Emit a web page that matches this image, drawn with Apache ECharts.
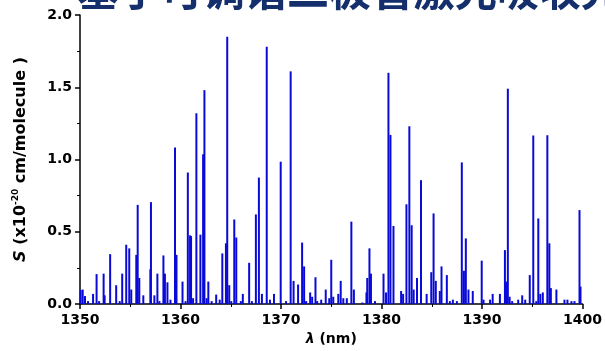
<!DOCTYPE html>
<html>
<head>
<meta charset="utf-8">
<script src="https://cdn.jsdelivr.net/npm/echarts@6/dist/echarts.min.js"></script>
<style>html,body{margin:0;padding:0;background:#fff}#c{width:605px;height:351px}</style>
</head>
<body>
<div id="c"></div>
<script>
var wavelengths = [1350.07,1350.27,1350.5,1350.8,1351.3,1351.65,1351.9,1352.35,1352.45,1353.0,1353.6,1353.95,1354.2,1354.6,1354.9,1355.1,1355.6,1355.74,1355.9,1356.3,1357.0,1357.06,1357.4,1357.7,1357.9,1358.3,1358.45,1358.7,1359.0,1359.45,1359.6,1360.2,1360.5,1360.73,1360.95,1361.05,1361.25,1361.58,1361.98,1362.25,1362.38,1362.6,1362.77,1363.1,1363.55,1363.9,1364.16,1364.52,1364.65,1364.85,1365.05,1365.35,1365.55,1366.0,1366.2,1366.83,1367.1,1367.5,1367.8,1368.1,1368.58,1368.9,1369.3,1369.97,1370.5,1370.96,1371.25,1371.7,1372.1,1372.3,1372.5,1372.9,1373.1,1373.43,1373.6,1374.0,1374.45,1374.8,1375.0,1375.2,1375.7,1375.94,1376.2,1376.55,1377.0,1377.25,1378.1,1378.5,1378.58,1378.8,1378.95,1379.35,1380.2,1380.45,1380.69,1380.89,1381.19,1381.95,1382.15,1382.48,1382.77,1383.0,1383.2,1383.53,1383.93,1384.49,1384.95,1385.18,1385.4,1385.8,1385.97,1386.5,1386.8,1387.1,1387.5,1387.99,1388.2,1388.39,1388.65,1389.08,1389.97,1390.15,1390.8,1391.06,1391.78,1392.28,1392.4,1392.57,1392.75,1393.0,1393.6,1394.0,1394.3,1394.75,1395.1,1395.4,1395.6,1395.8,1396.05,1396.5,1396.7,1396.85,1397.4,1398.2,1398.5,1398.9,1399.2,1399.7,1399.8];
var intensities = [0.097,0.10,0.055,0.02,0.07,0.207,0.02,0.21,0.06,0.345,0.13,0.02,0.21,0.41,0.385,0.10,0.34,0.686,0.18,0.06,0.24,0.705,0.06,0.21,0.02,0.336,0.21,0.15,0.03,1.083,0.34,0.155,0.02,0.91,0.475,0.47,0.04,1.32,0.48,1.036,1.48,0.04,0.155,0.02,0.065,0.03,0.35,0.42,1.85,0.13,0.02,0.585,0.46,0.02,0.07,0.285,0.02,0.62,0.875,0.07,1.78,0.03,0.07,0.985,0.02,1.61,0.16,0.135,0.425,0.26,0.02,0.08,0.05,0.185,0.02,0.03,0.10,0.04,0.306,0.05,0.07,0.16,0.04,0.04,0.57,0.10,0.01,0.08,0.18,0.385,0.21,0.02,0.21,0.08,1.60,1.17,0.54,0.09,0.07,0.69,1.23,0.545,0.10,0.18,0.857,0.07,0.22,0.627,0.16,0.09,0.26,0.2,0.02,0.03,0.02,0.98,0.23,0.454,0.10,0.09,0.30,0.03,0.03,0.07,0.07,0.373,0.155,1.49,0.05,0.02,0.03,0.06,0.03,0.2,1.166,0.02,0.592,0.07,0.08,1.168,0.42,0.11,0.10,0.03,0.03,0.02,0.02,0.65,0.12];
var xTicks = [1350,1360,1370,1380,1390,1400];
var yTicks = [0.0,0.5,1.0,1.5,2.0];
var titleText = '基于可调谐二极管激光吸收光谱';

var chart = echarts.init(document.getElementById('c'), null, {renderer:'canvas'});
var data = wavelengths.map(function(w,i){return [w, intensities[i]];});
var font = '"DejaVu Sans", sans-serif';
chart.setOption({
  animation:false,
  backgroundColor:'#fff',
  graphic:[{type:'text', left:77, top:-31, silent:true,
    style:{text:titleText, fill:'#142f6b', font:'bold 42px "Noto Sans CJK SC", sans-serif'}}],
  grid:{left:80,right:19,top:15,bottom:47,containLabel:false},
  xAxis:{
    type:'value', min:xTicks[0], max:xTicks[xTicks.length-1], interval:10,
    axisLine:{show:true,onZero:false,lineStyle:{color:'#000',width:1.5}},
    axisTick:{show:true,inside:false,length:5,lineStyle:{color:'#000',width:1.5}},
    minorTick:{show:true,splitNumber:2,length:3,lineStyle:{color:'#000',width:1}},
    splitLine:{show:false},
    axisLabel:{color:'#000',fontSize:14,fontWeight:'bold',fontFamily:font,margin:9,
      formatter:function(v){return String(v);}},
    name:'{i|λ} (nm)', nameLocation:'middle', nameGap:26,
    nameTextStyle:{color:'#000',fontSize:14,fontWeight:'bold',fontFamily:font,
      rich:{i:{fontStyle:'italic',fontWeight:'bold',fontSize:14,fontFamily:font,color:'#000'}}}
  },
  yAxis:{
    type:'value', min:yTicks[0], max:yTicks[yTicks.length-1], interval:0.5,
    axisLine:{show:true,lineStyle:{color:'#000',width:1.5}},
    axisTick:{show:true,inside:false,length:5,lineStyle:{color:'#000',width:1.5}},
    minorTick:{show:true,splitNumber:2,length:3,lineStyle:{color:'#000',width:1}},
    splitLine:{show:false},
    axisLabel:{color:'#000',fontSize:14,fontWeight:'bold',fontFamily:font,margin:8,
      formatter:function(v){return v.toFixed(1);}},
    name:'{i|S} (x10{sup|-20} cm/molecule )', nameLocation:'middle', nameGap:49, nameRotate:90,
    nameTextStyle:{color:'#000',fontSize:16,fontWeight:'bold',fontFamily:font,lineHeight:20,
      rich:{i:{fontStyle:'italic',fontWeight:'bold',fontSize:16,fontFamily:font,color:'#000',lineHeight:20},
            sup:{fontSize:9,fontWeight:'bold',fontFamily:font,color:'#000',verticalAlign:'top',lineHeight:10}}}
  },
  series:[{
    type:'bar', data:data, barWidth:2, barGap:'-100%',
    itemStyle:{color:'#0a0ad8'}
  }]
});
</script>
</body>
</html>
